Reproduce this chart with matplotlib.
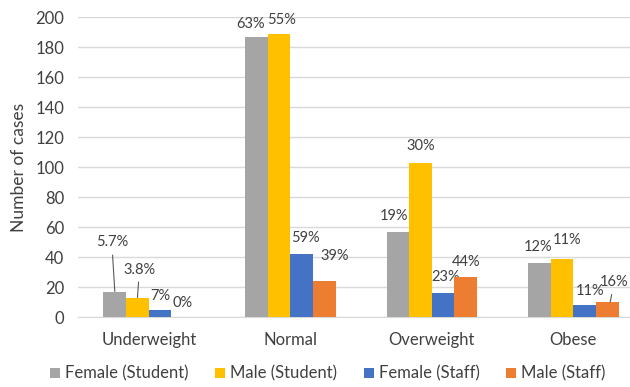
import numpy as np
import matplotlib.pyplot as plt

categories = ["Underweight", "Normal", "Overweight", "Obese"]
series = ["Female (Student)", "Male (Student)", "Female (Staff)", "Male (Staff)"]
colors = ["#A5A5A5", "#FFC000", "#4472C4", "#ED7D31"]

female_student = [17, 187, 57, 36]
male_student = [13, 189, 103, 39]
female_staff = [5, 42, 16, 8]
male_staff = [0, 24, 27, 10]

pct_female_student = ["5.7%", "63%", "19%", "12%"]
pct_male_student = ["3.8%", "55%", "30%", "11%"]
pct_female_staff = ["7%", "59%", "23%", "11%"]
pct_male_staff = ["0%", "39%", "44%", "16%"]

values = [female_student, male_student, female_staff, male_staff]
labels = [pct_female_student, pct_male_student, pct_female_staff, pct_male_staff]

# label offsets in pixels from bar top (series, category)
offsets = {
    (0, 0): (-3, 49), (1, 0): (2, 28), (2, 0): (0, 14), (3, 0): (0, 14),
    (0, 1): (-6, 13), (1, 1): (3, 14), (2, 1): (4, 16), (3, 1): (10, 25),
    (0, 2): (-4, 15), (1, 2): (0, 16), (2, 2): (2, 16), (3, 2): (0, 14),
    (0, 3): (-1, 16), (1, 3): (5, 18), (2, 3): (5, 14), (3, 3): (4, 20),
}
leaders = [(0, 0), (1, 0), (3, 3)]

plt.rcParams['font.family'] = ['Lato', 'DejaVu Sans']
text_color = "#404040"

fig = plt.figure(figsize=(6.3, 3.87), dpi=100)
ax = fig.add_axes([78 / 630, 70 / 387, 552 / 630, 300 / 387])

x = np.arange(len(categories))
w = 0.16
for i, (vals, name, col) in enumerate(zip(values, series, colors)):
    pos = x + (i - 1.5) * w
    ax.bar(pos, vals, width=w, color=col, label=name, zorder=3)
    for j, (px, v) in enumerate(zip(pos, vals)):
        dx, dy = offsets[(i, j)]
        if (i, j) in leaders:
            ax.annotate(labels[i][j], xy=(px + (0.02 if i == 3 else 0), v), xytext=(dx, dy),
                        textcoords='offset pixels', ha='center', va='center',
                        fontsize=10.5, color=text_color,
                        arrowprops=dict(arrowstyle='-', color='#595959', lw=0.8,
                                        shrinkA=2, shrinkB=0))
        else:
            ax.annotate(labels[i][j], xy=(px, v), xytext=(dx, dy),
                        textcoords='offset pixels', ha='center', va='center',
                        fontsize=10.5, color=text_color)

ax.set_xlim(-0.5, 3.40)
ax.set_ylim(0, 200)
ax.set_yticks(range(0, 201, 20))
ax.set_xticks(x)
ax.set_xticklabels(categories)
ax.tick_params(length=0, labelsize=12, colors=text_color)
ax.tick_params(axis='x', pad=11)
ax.tick_params(axis='y', pad=10)
ax.grid(axis='y', color='#D9D9D9', lw=1, zorder=0)
for s in ['top', 'right', 'left']:
    ax.spines[s].set_visible(False)
ax.spines['bottom'].set_color('#D9D9D9')
ax.set_ylabel("Number of cases", fontsize=12.5, color=text_color, labelpad=6)

fig.legend(loc='lower center', bbox_to_anchor=(0.52, -0.025), ncol=4, frameon=False,
           fontsize=12, handlelength=0.6, handleheight=0.6, handletextpad=0.3,
           columnspacing=1.6, labelcolor=text_color)

fig.savefig("out.png", dpi=100)
